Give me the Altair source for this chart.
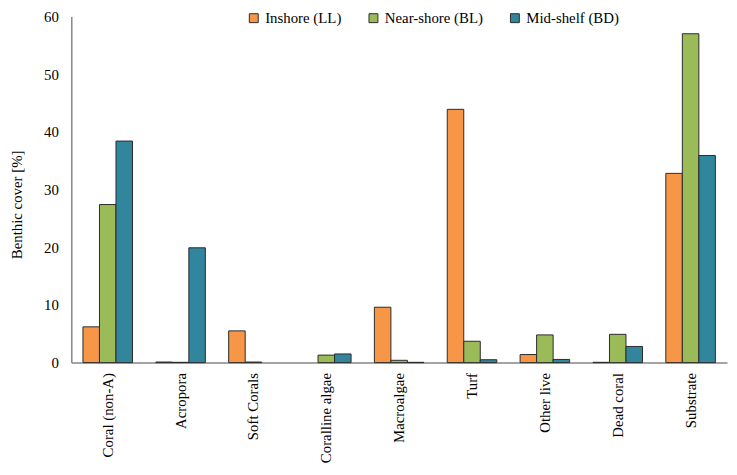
import altair as alt
import pandas as pd

categories = ["Coral (non-A)", "Acropora", "Soft Corals", "Coralline algae",
              "Macroalgae", "Turf", "Other live", "Dead coral", "Substrate"]
series = ["Inshore (LL)", "Near-shore (BL)", "Mid-shelf (BD)"]
inshore = [6.2, 0.1, 5.5, None, 9.6, 43.9, 1.4, 0.05, 32.8]
nearshore = [27.4, 0.05, 0.1, 1.3, 0.4, 3.7, 4.8, 4.9, 57.0]
midshelf = [38.4, 19.9, None, 1.5, 0.05, 0.5, 0.55, 2.8, 35.9]
colors = ["#F79646", "#9BBB59", "#31859C"]
y_ticks = [0, 10, 20, 30, 40, 50, 60]

rows = []
for s, vals in zip(series, [inshore, nearshore, midshelf]):
    for c, v in zip(categories, vals):
        rows.append({"category": c, "series": s, "value": v})
df = pd.DataFrame(rows)

FONT = "'Liberation Serif', 'Times New Roman', 'DejaVu Serif', serif"

chart = alt.Chart(df).mark_bar(stroke="#2a2a2a", strokeWidth=1).encode(
    x=alt.X("category:N", sort=categories,
            scale=alt.Scale(paddingInner=0.32, paddingOuter=0.16),
            axis=alt.Axis(title=None, labelAngle=270, ticks=False, labelFont=FONT,
                          labelFontSize=15, labelColor="black", domainColor="#868686",
                          domainWidth=1.5, labelPadding=10)),
    xOffset=alt.XOffset("series:N", sort=series,
                        scale=alt.Scale(paddingInner=0, paddingOuter=0)),
    y=alt.Y("value:Q", scale=alt.Scale(domain=[0, 60], nice=False),
            axis=alt.Axis(values=y_ticks, ticks=False, grid=False,
                          title="Benthic cover [%]", titleFont=FONT, titleFontSize=15,
                          titleFontWeight="normal", titleColor="black",
                          titleX=-55, titleY=190, titleBaseline="middle", titleAngle=270,
                          labelFont=FONT, labelFontSize=15, labelColor="black",
                          labelPadding=13, domainColor="#868686", domainWidth=1.5)),
    color=alt.Color("series:N", sort=series,
                    scale=alt.Scale(domain=series, range=colors),
                    legend=alt.Legend(title=None, orient="none", legendX=177, legendY=-6,
                                      direction="horizontal", symbolType="square",
                                      symbolSize=81, symbolStrokeColor="#2a2a2a",
                                      symbolStrokeWidth=1, symbolOpacity=1,
                                      labelFont=FONT, labelFontSize=15, labelColor="black",
                                      labelOffset=4, columnPadding=24, padding=0)),
).properties(
    width=663, height=350,
    autosize=alt.AutoSizeParams(type="none"),
    padding={"left": 64, "top": 6, "right": 2, "bottom": 103},
).configure_view(stroke=None)

chart.save("out.html", embed_options={"renderer": "svg", "actions": False})
